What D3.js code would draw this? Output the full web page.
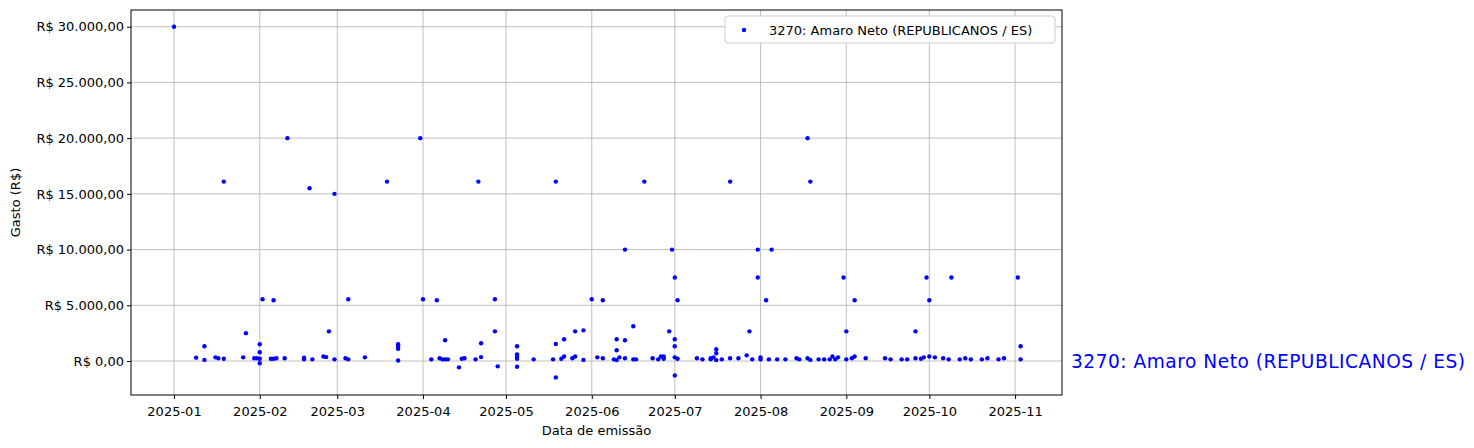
<!DOCTYPE html>
<html><head><meta charset="utf-8">
<script src="https://cdn.jsdelivr.net/npm/d3@7"></script>
<style>body{margin:0;background:#fff;font-family:"DejaVu Sans",sans-serif;}</style>
</head><body><svg id="c" width="1474" height="448"></svg>
<script>
const seriesName = "3270: Amaro Neto (REPUBLICANOS / ES)";
const dates = [
"2025-01-01","2025-01-09","2025-01-12","2025-01-12","2025-01-16","2025-01-17","2025-01-19","2025-01-19","2025-01-26","2025-01-27",
"2025-01-30","2025-01-31","2025-02-01","2025-02-01","2025-02-01","2025-02-01","2025-02-02","2025-02-06","2025-02-05","2025-02-06",
"2025-02-07","2025-02-10","2025-02-11","2025-02-17","2025-02-17","2025-02-19","2025-02-20","2025-02-24","2025-02-25","2025-02-26",
"2025-02-28","2025-02-28","2025-03-05","2025-03-04","2025-03-05","2025-03-11","2025-03-19","2025-03-23","2025-03-23","2025-03-23",
"2025-03-23","2025-03-31","2025-04-01","2025-04-06","2025-04-04","2025-04-07","2025-04-09","2025-04-08","2025-04-10","2025-04-09",
"2025-04-14","2025-04-15","2025-04-16","2025-04-20","2025-04-21","2025-04-22","2025-04-22","2025-04-27","2025-04-27","2025-04-28",
"2025-05-05","2025-05-05","2025-05-05","2025-05-05","2025-05-05","2025-05-11","2025-05-18","2025-05-19","2025-05-19","2025-05-19",
"2025-05-21","2025-05-22","2025-05-22","2025-05-25","2025-05-26","2025-05-26","2025-05-29","2025-05-29","2025-06-01","2025-06-05",
"2025-06-03","2025-06-05","2025-06-09","2025-06-10","2025-06-10","2025-06-10","2025-06-11","2025-06-13","2025-06-13","2025-06-13",
"2025-06-16","2025-06-16","2025-06-17","2025-06-20","2025-06-23","2025-06-25","2025-06-26","2025-06-27","2025-06-27","2025-06-29",
"2025-06-30","2025-07-01","2025-07-01","2025-07-01","2025-07-01","2025-07-02","2025-07-01","2025-07-02","2025-07-09","2025-07-11",
"2025-07-14","2025-07-15","2025-07-14","2025-07-16","2025-07-16","2025-07-16","2025-07-18","2025-07-21","2025-07-21","2025-07-24",
"2025-07-27","2025-07-28","2025-07-29","2025-07-31","2025-07-31","2025-08-01","2025-08-01","2025-08-03","2025-08-04","2025-08-05",
"2025-08-07","2025-08-10","2025-08-14","2025-08-15","2025-08-18","2025-08-18","2025-08-19","2025-08-19","2025-08-22","2025-08-24",
"2025-08-26","2025-08-27","2025-08-28","2025-08-29","2025-08-31","2025-09-01","2025-09-01","2025-09-03","2025-09-04","2025-09-04",
"2025-09-08","2025-09-15","2025-09-17","2025-09-21","2025-09-23","2025-09-26","2025-09-26","2025-09-28","2025-09-29","2025-09-30",
"2025-10-01","2025-10-01","2025-10-03","2025-10-06","2025-10-08","2025-10-09","2025-10-12","2025-10-14","2025-10-16","2025-10-20",
"2025-10-22","2025-10-26","2025-10-28","2025-11-02","2025-11-03","2025-11-03"];
const values = [
30000,300,1320,100,330,250,200,16100,330,2500,
250,250,1500,780,200,-200,5540,5450,200,200,
250,250,20000,300,150,15500,150,400,350,2660,
150,15000,5540,250,150,330,16100,1500,1300,1100,
50,20000,5540,5450,150,250,1860,150,150,150,
-570,200,250,150,16100,1590,350,5540,2660,-480,
1320,600,400,200,-510,150,150,1530,-1470,16100,
200,400,1950,250,400,2660,2750,100,5540,5450,
330,250,150,80,960,1950,330,1860,250,10000,
3120,150,150,16100,250,150,400,400,200,2660,
10000,7500,1950,1320,330,200,-1290,5450,250,150,
250,330,150,1050,690,80,150,16100,250,250,
510,2660,150,10000,7500,330,150,5450,150,10000,
150,150,250,150,250,20000,100,16100,150,150,
150,400,150,330,7500,2660,150,250,400,5450,
250,250,150,150,150,2660,250,200,330,7500,
5450,400,330,250,150,7500,150,250,150,150,
250,150,250,7500,1320,150];
const yTicks = [0,5000,10000,15000,20000,25000,30000];
const xTicks = ["2025-01-01","2025-02-01","2025-03-01","2025-04-01","2025-05-01","2025-06-01","2025-07-01","2025-08-01","2025-09-01","2025-10-01","2025-11-01"];

const parse = d3.utcParse("%Y-%m-%d");
const L=131,R=1062,T=10,B=395;
const svg = d3.select("#c");
const x = d3.scaleUtc().domain([d3.utcParse("%Y-%m-%dT%H")("2024-12-16T11"), d3.utcParse("%Y-%m-%dT%H")("2025-11-17T23")]).range([L,R]);
const y = d3.scaleLinear().domain([-3050,31500]).range([B,T]);
const fmt = v => "R$ " + d3.format(",.2f")(v).replace(/,/g,"#").replace(/\./g,",").replace(/#/g,".");

const gx = svg.append("g").attr("transform",`translate(0,${B})`)
  .call(d3.axisBottom(x).tickValues(xTicks.map(parse)).tickFormat(d3.utcFormat("%Y-%m")).tickSizeOuter(0).tickSize(4));
const gy = svg.append("g").attr("transform",`translate(${L},0)`)
  .call(d3.axisLeft(y).tickValues(yTicks).tickFormat(fmt).tickSizeOuter(0).tickSize(4));
[gx,gy].forEach(g=>{g.selectAll("text").attr("font-size",13).attr("fill","#000").attr("font-family","DejaVu Sans");g.select(".domain").remove();});
gx.selectAll("text").attr("dy","1.1em");
svg.append("g").selectAll("line").data(xTicks.map(parse)).join("line")
  .attr("x1",d=>x(d)).attr("x2",d=>x(d)).attr("y1",T).attr("y2",B).attr("stroke","#b0b0b0").attr("stroke-width",0.8);
svg.append("g").selectAll("line").data(yTicks).join("line")
  .attr("x1",L).attr("x2",R).attr("y1",d=>y(d)).attr("y2",d=>y(d)).attr("stroke","#b0b0b0").attr("stroke-width",0.8);
svg.append("rect").attr("x",L).attr("y",T).attr("width",R-L).attr("height",B-T).attr("fill","none").attr("stroke","#000").attr("stroke-width",1);

svg.append("g").selectAll("circle").data(dates.map((d,i)=>[parse(d),values[i]])).join("circle")
  .attr("cx",d=>x(d[0])).attr("cy",d=>y(d[1])).attr("r",2.2).attr("fill","#0000ff");

svg.append("text").attr("x",(L+R)/2).attr("y",435).attr("text-anchor","middle").attr("font-size",13).text("Data de emissão");
svg.append("text").attr("transform",`translate(20,${(T+B)/2}) rotate(-90)`).attr("text-anchor","middle").attr("font-size",13).text("Gasto (R$)");

svg.append("rect").attr("x",725).attr("y",16).attr("width",330).attr("height",27).attr("rx",3).attr("fill","#fff").attr("stroke","#ccc");
svg.append("circle").attr("cx",744).attr("cy",30).attr("r",2.2).attr("fill","#0000ff");
svg.append("text").attr("x",769).attr("y",35).attr("font-size",13).text(seriesName);

svg.append("text").attr("x",1071).attr("y",368).attr("font-size",18.6).attr("fill","#0000ff").attr("textLength",394).text(seriesName);
</script></body></html>
